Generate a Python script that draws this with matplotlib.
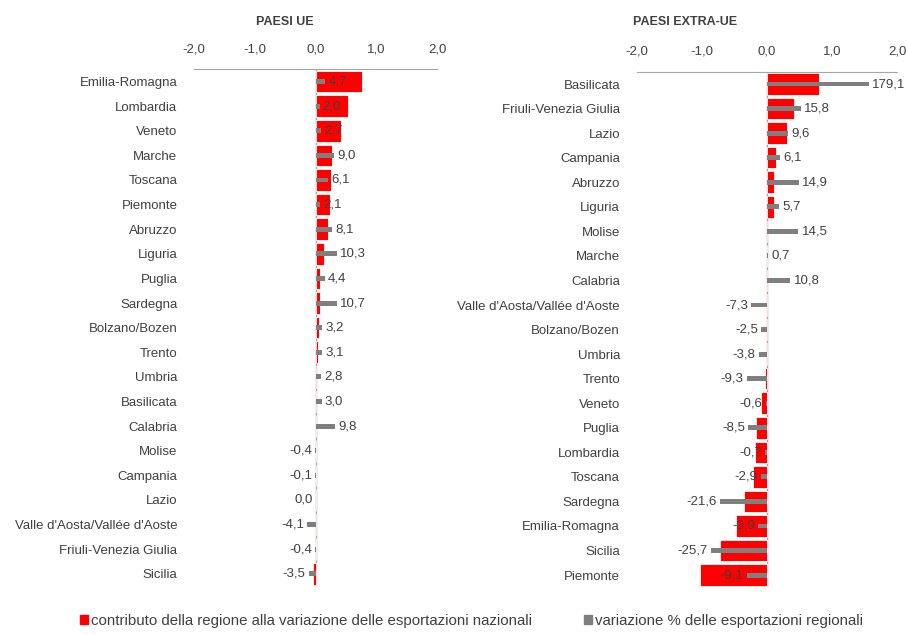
import matplotlib
matplotlib.use("Agg")
import matplotlib.pyplot as plt
from matplotlib.patches import Patch
import numpy as np

plt.rcParams['font.family'] = ['Liberation Sans Narrow', 'Liberation Sans', 'DejaVu Sans']

# data (top to bottom)
regions_ue = ["Emilia-Romagna", "Lombardia", "Veneto", "Marche", "Toscana", "Piemonte",
              "Abruzzo", "Liguria", "Puglia", "Sardegna", "Bolzano/Bozen", "Trento",
              "Umbria", "Basilicata", "Calabria", "Molise", "Campania", "Lazio",
              "Valle d'Aosta/Vallée d'Aoste", "Friuli-Venezia Giulia", "Sicilia"]
contrib_ue = [0.77, 0.54, 0.41, 0.27, 0.26, 0.24, 0.21, 0.14, 0.08, 0.07, 0.05, 0.04,
              0.03, 0.03, 0.01, 0.0, 0.0, 0.0, -0.01, 0.0, -0.04]
var_ue = [4.7, 2.0, 2.7, 9.0, 6.1, 2.1, 8.1, 10.3, 4.4, 10.7, 3.2, 3.1,
          2.8, 3.0, 9.8, -0.4, -0.1, 0.0, -4.1, -0.4, -3.5]

regions_extra = ["Basilicata", "Friuli-Venezia Giulia", "Lazio", "Campania", "Abruzzo",
                 "Liguria", "Molise", "Marche", "Calabria", "Valle d'Aosta/Vallée d'Aoste",
                 "Bolzano/Bozen", "Umbria", "Trento", "Veneto", "Puglia", "Lombardia",
                 "Toscana", "Sardegna", "Emilia-Romagna", "Sicilia", "Piemonte"]
contrib_extra = [0.80, 0.42, 0.31, 0.14, 0.11, 0.11, 0.01, 0.0, 0.01, -0.01, -0.01, -0.02,
                 -0.03, -0.09, -0.17, -0.18, -0.22, -0.35, -0.48, -0.72, -1.02]
var_extra = [179.1, 15.8, 9.6, 6.1, 14.9, 5.7, 14.5, 0.7, 10.8, -7.3, -2.5, -3.8,
             -9.3, -0.6, -8.5, -0.7, -2.9, -21.6, -3.9, -25.7, -9.1]

ticks = [-2.0, -1.0, 0.0, 1.0, 2.0]
var_cap = 47  # grey bars are cut off at this value on the hidden % axis

RED = "#ff0000"
GREY = "#7f7f7f"
TXT = "#404040"
FS = 9.5


def fmt(v):
    return f"{v:.1f}".replace(".", ",")


def panel(rect, regions, contrib, var, title, title_x):
    ax = fig.add_axes(rect)
    y = np.arange(len(regions))
    ax.barh(y, contrib, height=0.88, color=RED, edgecolor="white", linewidth=0.6, zorder=2)
    ax.set_xlim(-2, 2)
    ax.set_ylim(len(regions) - 0.5, -0.5)
    ax.axvline(0, color="#a6a6a6", lw=1, zorder=1)

    # variazione % on a hidden second scale sharing the zero
    ax2 = ax.twiny()
    ax2.set_xlim(-60, 60)
    ax2.axis("off")
    shown = [min(v, var_cap) for v in var]
    ax2.barh(y, shown, height=0.2, color=GREY, zorder=3)
    for yi, v, s in zip(y, var, shown):
        if v > 0:
            ax2.text(s + 1.5, yi, fmt(v), ha="left", va="center", fontsize=FS, color=TXT, zorder=4)
        else:
            ax2.text(s - 1.5, yi, fmt(v), ha="right", va="center", fontsize=FS, color=TXT, zorder=4)

    ax.set_yticks(y)
    ax.set_yticklabels(regions, fontsize=FS, color=TXT)
    ax.set_xticks(ticks)
    ax.set_xticklabels([fmt(t) for t in ticks], fontsize=FS, color=TXT)
    ax.xaxis.tick_top()
    ax.tick_params(length=0, axis="x", pad=10)
    ax.tick_params(length=0, axis="y", pad=12)
    for s in ["left", "right", "bottom"]:
        ax.spines[s].set_visible(False)
    ax.spines["top"].set_color("#a6a6a6")
    fig.text(title_x, 0.965, title, ha="center", va="center", fontsize=9, fontweight="bold", color=TXT)
    return ax


fig = plt.figure(figsize=(9.07, 6.35), dpi=100)
panel([0.214, 0.077, 0.268, 0.814], regions_ue, contrib_ue, var_ue, "PAESI UE", 0.314)
panel([0.702, 0.075, 0.287, 0.812], regions_extra, contrib_extra, var_extra, "PAESI EXTRA-UE", 0.755)

handles = [Patch(color=RED), Patch(color=GREY)]
labels = ["contributo della regione alla variazione delle esportazioni nazionali",
          "variazione % delle esportazioni regionali"]
fig.legend(handles, labels, loc="center", bbox_to_anchor=(0.52, 0.022), ncol=2, frameon=False,
           fontsize=10.8, handlelength=0.5, handleheight=0.5, handletextpad=0.2,
           columnspacing=3.5, labelcolor=TXT)

fig.savefig("out.png", dpi=100)
